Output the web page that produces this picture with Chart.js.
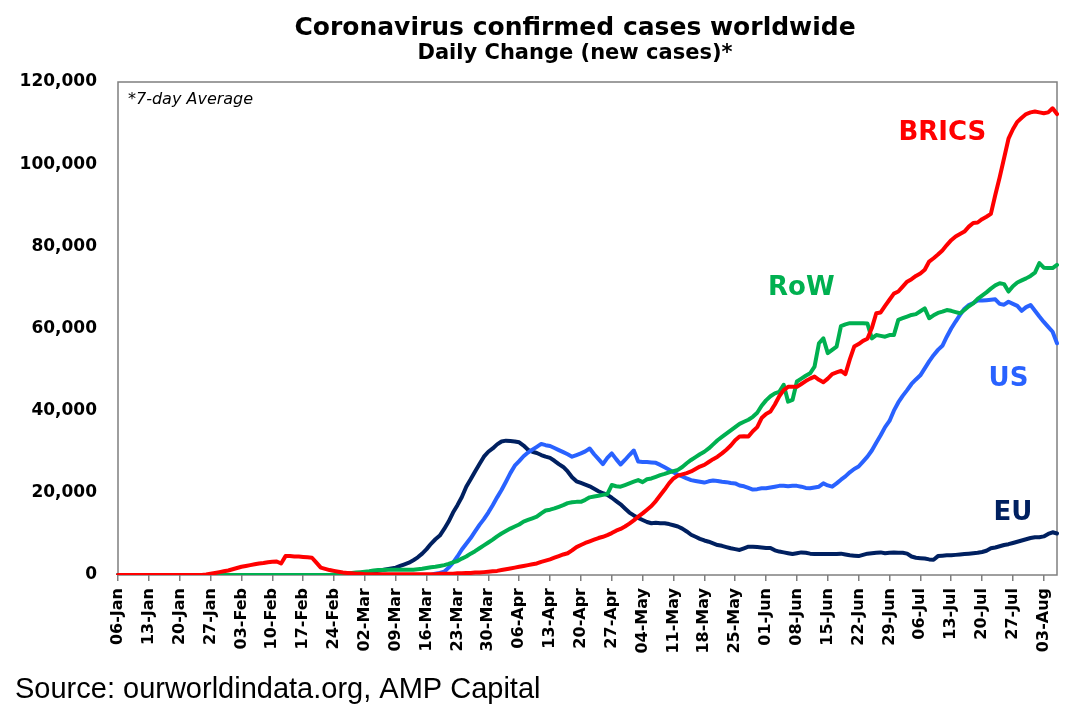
<!DOCTYPE html>
<html>
<head>
<meta charset="utf-8">
<title>Coronavirus confirmed cases worldwide</title>
<script src="https://cdn.jsdelivr.net/npm/chart.js@4.4.1/dist/chart.umd.min.js"></script>
<style>
  html, body { margin: 0; padding: 0; background: #ffffff; }
  #wrap { width: 1079px; height: 722px; }
</style>
</head>
<body>
<div id="wrap"><canvas id="casesChart" width="1079" height="722"></canvas></div>
<script>
// first day of the series, one point per day after it
const startDate = new Date(2020, 0, 6);
const monthNames = ['Jan', 'Feb', 'Mar', 'Apr', 'May', 'Jun', 'Jul', 'Aug', 'Sep', 'Oct', 'Nov', 'Dec'];

// 7-day average of new cases, thousands, one row per week starting 06-Jan
const bricsK = [
    0, 0, 0, 0, 0, 0, 0,
    0, 0, 0, 0, 0, 0, 0,
    0, 0, 0, 0, 0, 0, 0.1,
    0.3, 0.5, 0.7, 0.9, 1.1, 1.4, 1.7,
    2.0, 2.2, 2.4, 2.6, 2.8, 2.9, 3.1,
    3.2, 3.3, 2.8, 4.6, 4.6, 4.5, 4.5,
    4.4, 4.3, 4.2, 3.0, 1.8, 1.5, 1.2,
    1.0, 0.8, 0.6, 0.5, 0.4, 0.3, 0.3,
    0.2, 0.2, 0.2, 0.2, 0.2, 0.2, 0.2,
    0.2, 0.2, 0.2, 0.2, 0.2, 0.2, 0.2,
    0.2, 0.2, 0.2, 0.3, 0.3, 0.3, 0.3,
    0.4, 0.4, 0.5, 0.5, 0.6, 0.6, 0.7,
    0.8, 0.9, 1.0, 1.2, 1.4, 1.6, 1.8,
    2.0, 2.2, 2.4, 2.6, 2.8, 3.2, 3.5,
    3.8, 4.2, 4.6, 5.0, 5.3, 6.0, 6.8,
    7.3, 7.8, 8.2, 8.6, 9.0, 9.3, 9.7,
    10.2, 10.8, 11.2, 11.8, 12.5, 13.3, 14.2,
    15.0, 15.9, 16.8, 18.0, 19.4, 20.8, 22.3,
    23.5, 24.2, 24.5, 24.8, 25.2, 25.8, 26.4,
    26.8, 27.5, 28.2, 28.8, 29.6, 30.5, 31.5,
    32.8, 33.7, 33.8, 33.7, 35.0, 36.0, 38.2,
    39.2, 39.8, 41.5, 43.5, 45.0, 45.8, 45.8,
    45.8, 46.5, 47.2, 47.8, 48.3, 47.5, 46.9,
    47.8, 48.9, 49.3, 49.7, 48.9, 52.5, 55.6,
    56.2, 57.0, 57.5, 60.1, 63.7, 63.9, 65.5,
    67.0, 68.5, 69.0, 70.2, 71.4, 72.0, 72.8,
    73.4, 74.3, 76.3, 77.1, 78.0, 79.0, 80.3,
    81.5, 82.4, 83.0, 83.6, 84.8, 85.7, 85.8,
    86.6, 87.2, 87.9, 92.5, 96.8, 101.5, 106.2,
    108.5, 110.3, 111.3, 112.2, 112.6, 112.8, 112.6,
    112.4, 112.6, 113.6, 112.2
];

const rowK = [
    0, 0, 0, 0, 0, 0, 0,
    0, 0, 0, 0, 0, 0, 0,
    0, 0, 0, 0, 0, 0, 0,
    0, 0, 0, 0, 0, 0, 0,
    0, 0, 0, 0, 0, 0, 0,
    0, 0, 0, 0, 0, 0, 0,
    0, 0, 0, 0, 0, 0, 0,
    0.1, 0.2, 0.3, 0.4, 0.5, 0.6, 0.7,
    0.8, 0.9, 1.1, 1.2, 1.2, 1.3, 1.3,
    1.3, 1.3, 1.3, 1.3, 1.3, 1.4, 1.5,
    1.7, 1.9, 2.0, 2.2, 2.4, 2.7, 3.1,
    3.4, 4.0, 4.5, 5.2, 5.8, 6.5, 7.2,
    7.9, 8.6, 9.4, 10.1, 10.7, 11.3, 11.8,
    12.3, 13.0, 13.4, 13.8, 14.2, 15.0, 15.7,
    15.9, 16.2, 16.6, 17.0, 17.5, 17.7, 17.8,
    17.8, 18.3, 18.9, 19.1, 19.3, 19.5, 19.7,
    21.9, 21.6, 21.5, 21.9, 22.3, 22.7, 23.1,
    22.6, 23.3, 23.5, 23.9, 24.3, 24.6, 25.0,
    25.3, 25.6, 26.3, 27.2, 28.0, 28.7, 29.4,
    30.0, 30.8, 31.8, 32.8, 33.6, 34.4, 35.2,
    36.0, 36.8, 37.3, 37.8, 38.5, 39.5, 41.2,
    42.5, 43.5, 44.2, 44.6, 46.3, 42.2, 42.6,
    47.1, 47.8, 48.5, 49.1, 50.7, 56.4, 57.6,
    54.0, 54.8, 55.6, 60.6, 61.0, 61.3, 61.3,
    61.3, 61.3, 61.2, 57.6, 58.4, 58.2, 58.0,
    58.4, 58.4, 62.1, 62.5, 62.9, 63.3, 63.5,
    64.2, 64.9, 62.5, 63.2, 63.8, 64.1, 64.5,
    64.3, 64.0, 63.7, 64.5, 65.4, 66.1, 67.2,
    68.0, 68.8, 69.7, 70.5, 71.0, 70.8, 69.0,
    70.3, 71.2, 71.7, 72.2, 72.8, 73.6, 75.9,
    74.8, 74.7, 74.7, 75.5
];

const usK = [
    0, 0, 0, 0, 0, 0, 0,
    0, 0, 0, 0, 0, 0, 0,
    0, 0, 0, 0, 0, 0, 0,
    0, 0, 0, 0, 0, 0, 0,
    0, 0, 0, 0, 0, 0, 0,
    0, 0, 0, 0, 0, 0, 0,
    0, 0, 0, 0, 0, 0, 0,
    0, 0, 0, 0, 0, 0, 0,
    0, 0, 0, 0, 0, 0, 0,
    0, 0, 0, 0, 0, 0, 0,
    0, 0, 0.3, 0.5, 0.8, 1.8, 3.0,
    4.5, 6.2, 7.6, 9.0, 10.6, 12.2, 13.6,
    15.2, 17.0, 18.9, 20.7, 22.7, 24.8, 26.6,
    27.7, 28.9, 29.8, 30.5, 31.2, 31.9, 31.6,
    31.4, 30.9, 30.4, 29.9, 29.4, 28.8, 29.2,
    29.6, 30.1, 30.8, 29.4, 28.2, 27.0, 28.5,
    29.6, 28.2, 26.9, 28.0, 29.2, 30.3, 27.6,
    27.5, 27.5, 27.4, 27.3, 26.8, 26.2, 25.6,
    25.0, 24.4, 24.0, 23.5, 23.1, 22.9, 22.7,
    22.5, 22.8, 23.0, 22.9, 22.7, 22.6, 22.4,
    22.3, 21.8, 21.6, 21.2, 20.8, 20.9, 21.1,
    21.1, 21.3, 21.5, 21.7, 21.7, 21.6, 21.7,
    21.7, 21.5, 21.2, 21.1, 21.3, 21.5, 22.3,
    21.8, 21.5, 22.3, 23.2, 24.0, 25.0, 25.8,
    26.4, 27.6, 28.8, 30.3, 32.2, 34.0, 36.0,
    37.5, 40.0, 42.0, 43.6, 45.0, 46.5, 47.6,
    48.6, 50.3, 52.0, 53.5, 54.8, 55.8, 58.0,
    60.0, 61.7, 63.3, 64.8, 65.7, 66.2, 66.8,
    66.8, 66.9, 67.0, 67.1, 66.0, 65.8, 66.5,
    66.0, 65.5, 64.3, 65.2, 65.7, 64.3, 62.9,
    61.6, 60.4, 59.2, 56.4
];

const euK = [
    0, 0, 0, 0, 0, 0, 0,
    0, 0, 0, 0, 0, 0, 0,
    0, 0, 0, 0, 0, 0, 0,
    0, 0, 0, 0, 0, 0, 0,
    0, 0, 0, 0, 0, 0, 0,
    0, 0, 0, 0, 0, 0, 0,
    0, 0, 0, 0, 0, 0, 0,
    0, 0, 0, 0, 0, 0, 0,
    0.3, 0.5, 0.8, 1.0, 1.2, 1.4, 1.6,
    1.8, 2.2, 2.6, 3.0, 3.6, 4.3, 5.2,
    6.3, 7.6, 8.7, 9.6, 11.2, 13.0, 15.2,
    17.0, 19.0, 21.5, 23.3, 25.2, 27.0, 28.8,
    30.0, 30.8, 31.8, 32.5, 32.7, 32.6, 32.5,
    32.3, 31.5, 30.5, 30.0, 29.7, 29.2, 28.8,
    28.5, 27.8, 27.0, 26.3, 25.2, 23.8, 22.8,
    22.4, 22.0, 21.6, 21.0, 20.4, 19.9, 19.5,
    18.8, 18.0, 17.2, 16.2, 15.2, 14.5, 13.9,
    13.4, 12.9, 12.6, 12.7, 12.6, 12.6, 12.4,
    12.1, 11.8, 11.3, 10.6, 9.8, 9.3, 8.8,
    8.4, 8.1, 7.7, 7.3, 7.1, 6.8, 6.5,
    6.3, 6.1, 6.5, 6.9, 6.9, 6.8, 6.7,
    6.6, 6.6, 6.0, 5.7, 5.5, 5.3, 5.1,
    5.3, 5.5, 5.4, 5.2, 5.1, 5.1, 5.1,
    5.1, 5.1, 5.1, 5.2, 5.0, 4.8, 4.7,
    4.6, 4.9, 5.2, 5.3, 5.4, 5.5, 5.3,
    5.4, 5.5, 5.4, 5.4, 5.2, 4.5, 4.2,
    4.1, 4.0, 3.8, 3.7, 4.6, 4.7, 4.8,
    4.8, 4.9, 5.0, 5.1, 5.2, 5.3, 5.4,
    5.6, 5.9, 6.5, 6.7, 7.0, 7.3, 7.5,
    7.8, 8.1, 8.4, 8.7, 9.0, 9.2, 9.2,
    9.4, 10.0, 10.4, 10.1
];

const seriesNames = ['BRICS', 'RoW', 'US', 'EU'];
const seriesColors = ['#ff0000', '#00b050', '#2962ff', '#002060'];
const seriesValuesK = [bricsK, rowK, usK, euK];

// where each series name sits: day index and y value
const nameDays = [187, 155, 202, 203];
const nameValues = [107600, 69900, 47700, 15100];

const yMin = 0;
const yMax = 120000;
const yStep = 20000;

const chartTitle = 'Coronavirus confirmed cases worldwide';
const chartSubtitle = 'Daily Change (new cases)*';
const noteText = '*7-day Average';
const sourceText = 'Source: ourworldindata.org, AMP Capital';

// daily category labels, dd-Mon
const dayLabels = [];
for (let i = 0; i < bricsK.length; i++) {
    const d = new Date(startDate.getTime());
    d.setDate(d.getDate() + i);
    dayLabels.push(String(d.getDate()).padStart(2, '0') + '-' + monthNames[d.getMonth()]);
}

const datasets = seriesNames.map((name, i) => ({
    label: name,
    data: seriesValuesK[i].map(v => v * 1000),
    borderColor: seriesColors[i],
    backgroundColor: seriesColors[i],
    borderWidth: 4,
    pointRadius: 0,
    pointHoverRadius: 0,
    tension: 0,
    borderJoinStyle: 'round',
    borderCapStyle: 'round',
    fill: false
}));

const textLayer = {
    id: 'textLayer',
    beforeDatasetsDraw(chart) {
        const ctx = chart.ctx;
        const a = chart.chartArea;
        ctx.save();
        ctx.strokeStyle = '#7f7f7f';
        ctx.lineWidth = 1.5;
        ctx.strokeRect(a.left, a.top, a.right - a.left, a.bottom - a.top);
        ctx.restore();
    },
    afterDraw(chart) {
        const ctx = chart.ctx;
        const xScale = chart.scales.x;
        const yScale = chart.scales.y;
        ctx.save();
        ctx.textBaseline = 'middle';

        ctx.fillStyle = '#000000';
        ctx.textAlign = 'center';
        ctx.font = 'bold 25px "DejaVu Sans"';
        ctx.fillText(chartTitle, 575, 28);
        ctx.font = 'bold 21px "DejaVu Sans"';
        ctx.fillText(chartSubtitle, 575, 54);

        ctx.textAlign = 'left';
        ctx.font = 'oblique 16px "DejaVu Sans"';
        ctx.fillText(noteText, 128, 100);

        ctx.font = '29px "Liberation Sans"';
        ctx.fillText(sourceText, 15, 690);

        ctx.textAlign = 'center';
        ctx.font = 'bold 26px "DejaVu Sans"';
        seriesNames.forEach((name, i) => {
            ctx.fillStyle = seriesColors[i];
            ctx.fillText(name, xScale.getPixelForValue(nameDays[i]), yScale.getPixelForValue(nameValues[i]));
        });
        ctx.restore();
    }
};

const ctx = document.getElementById('casesChart').getContext('2d');
const chart = new Chart(ctx, {
    type: 'line',
    data: {
        labels: dayLabels,
        datasets: datasets
    },
    options: {
        responsive: false,
        devicePixelRatio: 1,
        animation: false,
        layout: {
            padding: { top: 82, right: 22, bottom: 0, left: 0 }
        },
        plugins: {
            legend: { display: false },
            title: { display: false },
            tooltip: { enabled: false }
        },
        scales: {
            x: {
                type: 'category',
                afterBuildTicks: (scale) => {
                    scale.ticks = scale.ticks.filter(t => t.value % 7 === 0);
                },
                afterFit: (scale) => { scale.height = 147; },
                border: { display: false },
                grid: {
                    display: true,
                    drawOnChartArea: false,
                    drawTicks: true,
                    tickLength: 6,
                    color: '#7f7f7f',
                    lineWidth: 1.5
                },
                ticks: {
                    autoSkip: false,
                    maxRotation: 90,
                    minRotation: 90,
                    padding: 7,
                    color: '#000000',
                    font: { family: '"DejaVu Sans"', size: 16, weight: 'bold' }
                }
            },
            y: {
                min: yMin,
                max: yMax,
                afterFit: (scale) => { scale.width = 118; },
                border: { display: false },
                grid: { display: false, drawTicks: false },
                ticks: {
                    stepSize: yStep,
                    padding: 21,
                    color: '#000000',
                    font: { family: '"DejaVu Sans"', size: 17, weight: 'bold' },
                    callback: (value) => value.toLocaleString('en-US')
                }
            }
        }
    },
    plugins: [textLayer]
});
</script>
</body>
</html>
